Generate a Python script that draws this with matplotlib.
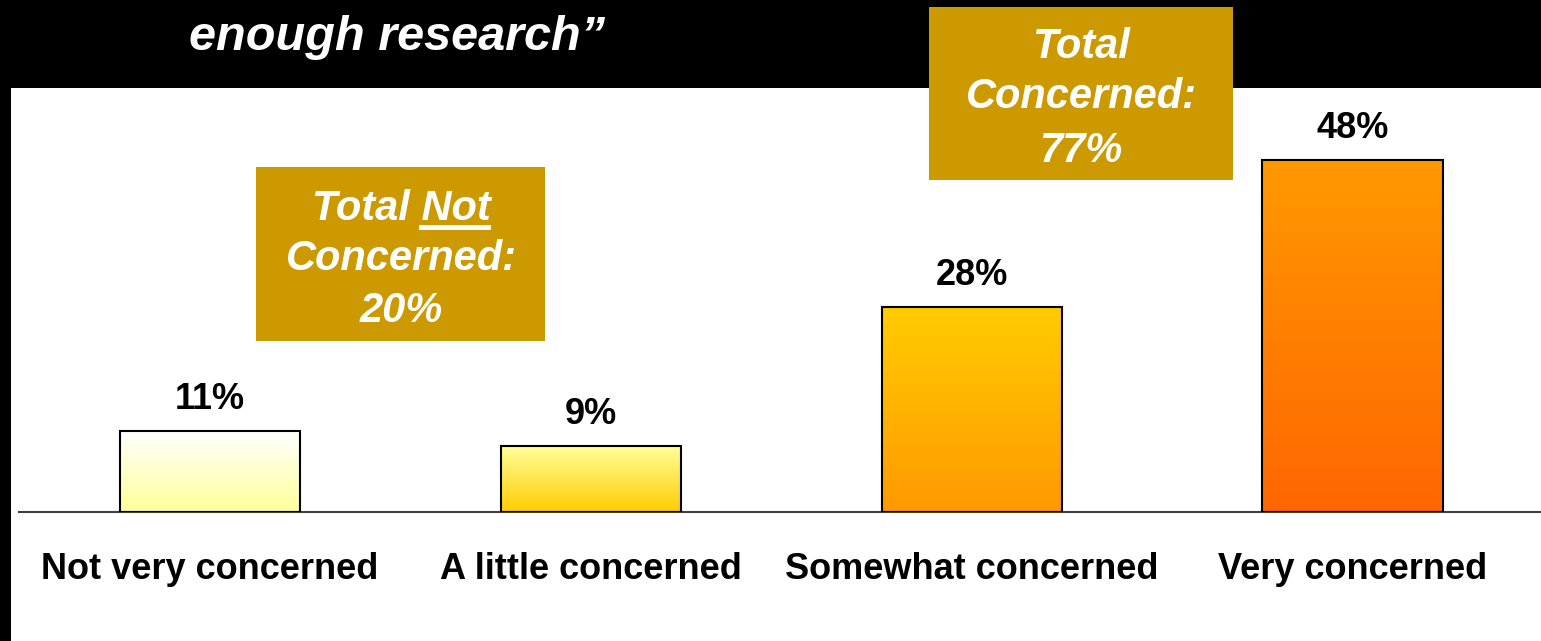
import matplotlib.pyplot as plt
import numpy as np
from matplotlib.colors import LinearSegmentedColormap
from matplotlib.patches import Rectangle

plt.rcParams['font.family'] = 'Liberation Sans'

categories = ["Not very concerned", "A little concerned", "Somewhat concerned", "Very concerned"]
values = [11, 9, 28, 48]
total_not_concerned = 20
total_concerned = 77
title_line = "enough research\u201d"

# gradient colours per bar, top -> bottom
top_colors = ['#FFFFFF', '#FFFF99', '#FFCC00', '#FF9900']
bottom_colors = ['#FFFF99', '#FFCC00', '#FF9900', '#FF6600']
box_color = '#CC9900'

W, H = 1541, 641
fig = plt.figure(figsize=(W / 100, H / 100), dpi=100)
fig.patch.set_facecolor('white')


def px(x, y):
    # pixel position measured from the top-left corner -> figure fraction
    return x / W, 1 - y / H


def fig_rect(x0, y0, x1, y1, color, z=0):
    fig.add_artist(Rectangle(px(x0, y1), (x1 - x0) / W, (y1 - y0) / H,
                             transform=fig.transFigure, facecolor=color,
                             edgecolor='none', zorder=z))


# header band and left strip
fig_rect(0, 0, W, 88, 'black', z=-2)
fig_rect(0, 0, 11, H, 'black', z=-2)

fig.text(*px(397, 50), title_line, color='white', fontsize=35, fontweight='bold',
         fontstyle='italic', ha='center', va='baseline')

# bar axes
ax = fig.add_axes([19 / W, 129 / H, 1522 / W, 424 / H])
ax.set_facecolor('none')
x = np.arange(len(categories))
bar_w = 0.473
ymax = 424 / 7.33

bars = ax.bar(x, values, width=bar_w, facecolor='none', edgecolor='black',
              linewidth=1.5, zorder=3)
# row 0 sits at the bottom of each bar (origin='lower') -> bottom colour
grad = np.linspace(1, 0, 256).reshape(-1, 1)
for i, v in enumerate(values):
    cmap = LinearSegmentedColormap.from_list('g%d' % i, [top_colors[i], bottom_colors[i]])
    ax.imshow(grad, extent=[x[i] - bar_w / 2, x[i] + bar_w / 2, 0, v], aspect='auto',
              cmap=cmap, origin='lower', vmin=0, vmax=1, zorder=2)
    ax.annotate('%d%%' % v, (x[i], v), xytext=(0, 16), textcoords='offset points',
                ha='center', va='baseline', fontsize=26, fontweight='bold')
    ax.text(x[i], -67 / 7.33, categories[i], ha='center', va='baseline',
            fontsize=26, fontweight='bold', clip_on=False)

ax.set_xlim(-0.5016, 3.495)
ax.set_ylim(0, ymax)
ax.set_xticks([])
ax.set_yticks([])
for s in ['top', 'left', 'right']:
    ax.spines[s].set_visible(False)
ax.spines['bottom'].set_color('#404040')
ax.spines['bottom'].set_linewidth(1.5)

# summary boxes
box_kw = dict(color='white', fontsize=30, fontweight='bold', fontstyle='italic',
              ha='center', va='baseline', zorder=5)

fig_rect(256, 167, 545, 341, box_color, z=4)
t1 = fig.text(*px(401, 220), "Total Not", **box_kw)
fig.text(*px(401, 270), "Concerned:", **box_kw)
fig.text(*px(401, 322), "%d%%" % total_not_concerned, **box_kw)

fig_rect(929, 7, 1233, 180, box_color, z=4)
fig.text(*px(1081, 58), "Total", **box_kw)
fig.text(*px(1081, 108), "Concerned:", **box_kw)
fig.text(*px(1081, 162), "%d%%" % total_concerned, **box_kw)

# underline the word "Not"
fig.canvas.draw()
r = fig.canvas.get_renderer()
bb = t1.get_window_extent(r)
probe = fig.text(0, 0, "Not", **box_kw)
nw = probe.get_window_extent(r).width
probe.remove()
fig.add_artist(plt.Line2D([(bb.x1 - nw) / W, (bb.x1 - 2) / W], [1 - 227 / H] * 2,
                          transform=fig.transFigure, color='white', linewidth=3.5,
                          zorder=6))

fig.savefig('out.png', dpi=100)
